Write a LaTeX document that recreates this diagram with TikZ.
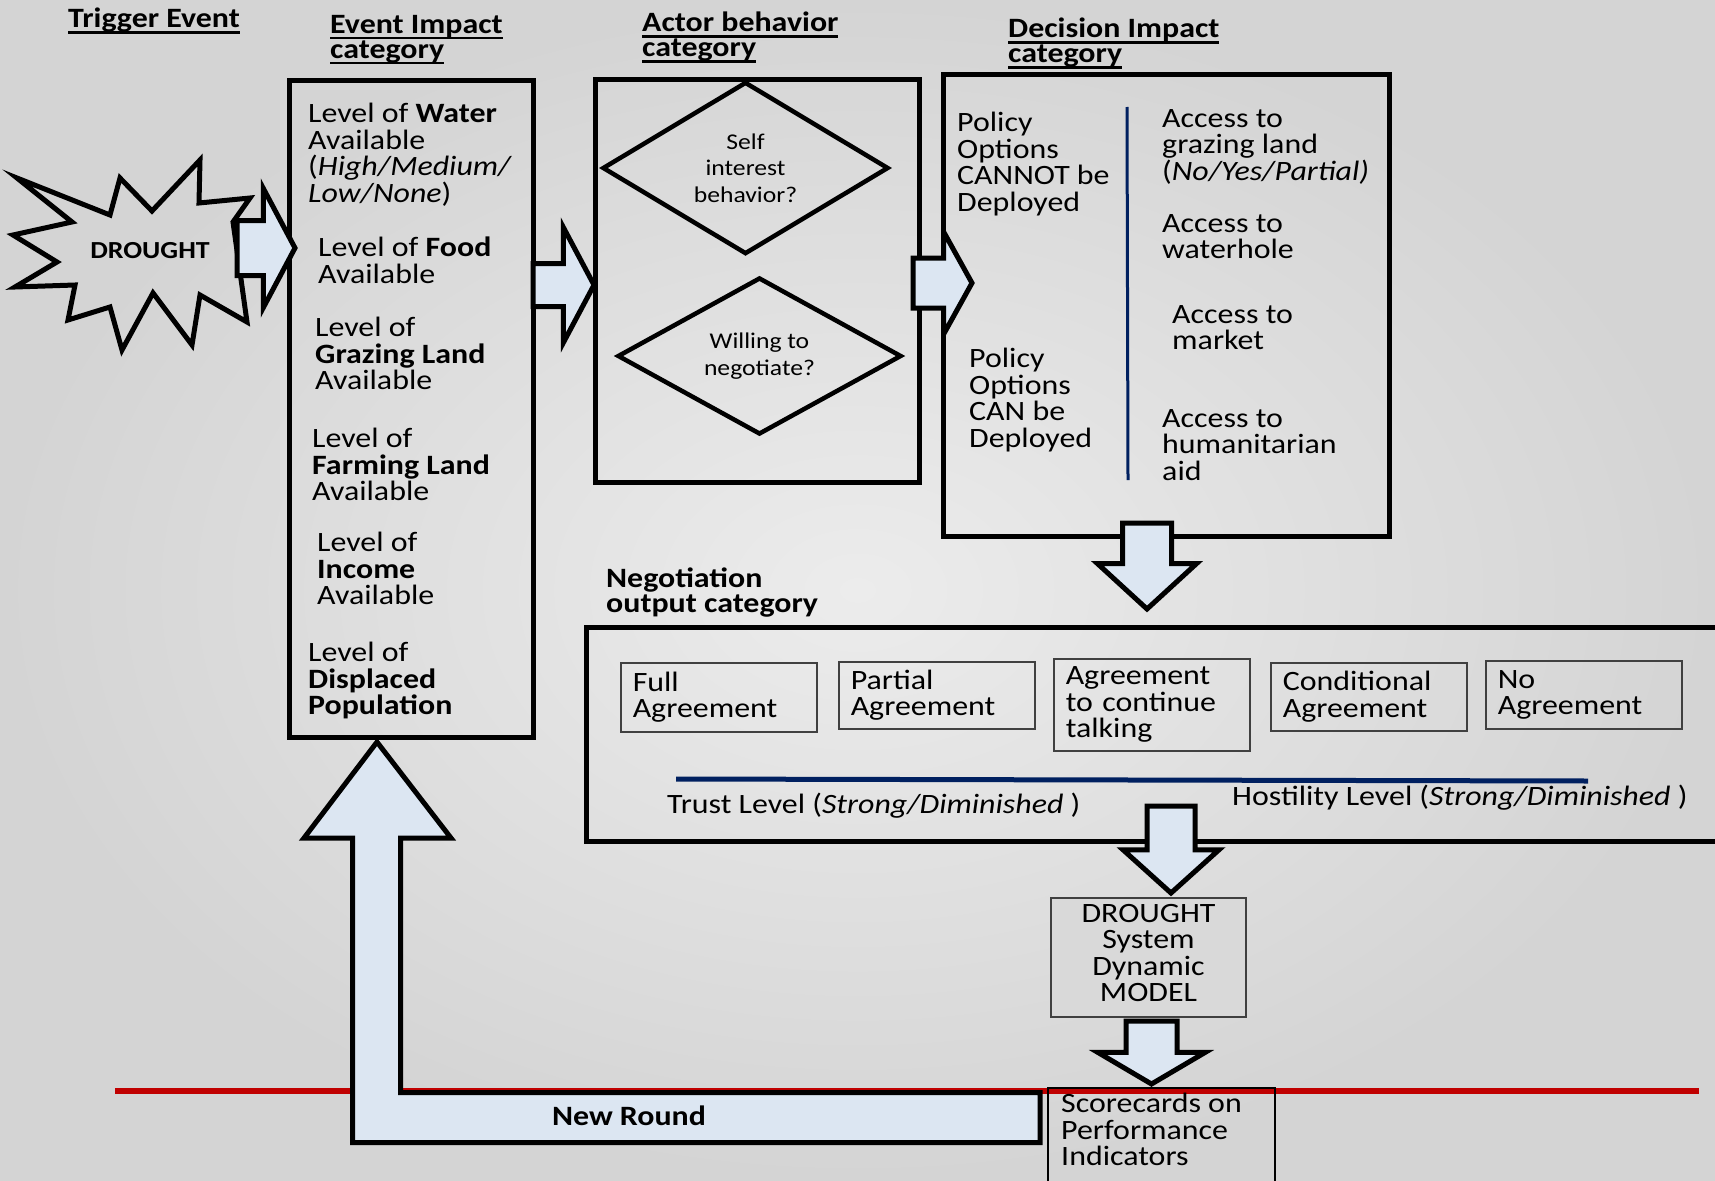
\documentclass[tikz,border=0pt]{standalone}
\usepackage{fontspec}
\setmainfont{Carlito}[FakeStretch=1.14]
\definecolor{arrowblue}{RGB}{220,230,242}
\definecolor{navy}{RGB}{0,32,96}
\definecolor{roundred}{RGB}{192,0,0}
\definecolor{modelgray}{RGB}{217,217,217}
\definecolor{boxgray}{RGB}{64,64,64}
\definecolor{bginner}{RGB}{236,236,236}
\definecolor{bgouter}{RGB}{212,212,212}
\usetikzlibrary{shapes.geometric,shapes.arrows}
\newcommand{\headul}[1]{\setbox0\hbox{#1}\rlap{\rule[-6pt]{\wd0}{2.5pt}}\box0}

\begin{document}
\begin{tikzpicture}[x=1pt,y=-1pt,line join=miter]
	\tikzstyle{catbox}=[draw,line width=5pt,inner sep=0];
	\tikzstyle{outbox}=[draw=boxgray,line width=1.5pt,text width=172pt,inner xsep=12pt,inner ysep=0pt,align=left,anchor=north west,font=\fontsize{28}{26.5}\selectfont];
	\tikzstyle{blockarr}=[single arrow,draw,fill=arrowblue,line width=5pt,inner sep=0,outer sep=0,anchor=tip];
	\tikzstyle{choice}=[diamond,draw,line width=4.5pt,inner sep=0,align=center,font=\fontsize{22.5}{26.5}\selectfont];
	\tikzstyle{txt}=[inner sep=0,align=left,anchor=north west,font=\fontsize{28}{26.5}\selectfont];
	\tikzstyle{cattitle}=[inner sep=0,align=left,anchor=north west,font=\bfseries\fontsize{28}{25}\selectfont];
	\shade[inner color=bginner,outer color=bgouter] (0,0) rectangle (1715,1180);
	\useasboundingbox (0,0) rectangle (1715,1180);

	\node[cattitle,anchor=base west] (t-trig) at (68,28) {\headul{Trigger Event}};
	\node[cattitle] (t-impact) at (330,15) {\headul{Event Impact}\\\headul{category}};
	\node[cattitle] (t-actor) at (642,12) {\headul{Actor behavior}\\\headul{category}};
	\node[cattitle] (t-dec) at (1008,18) {\headul{Decision Impact}\\\headul{category}};

	\draw[line width=5pt] (17,178) -- (110,215) -- (120,178) -- (152,211) -- (200,160) -- (199,203)
		-- (250,198) -- (233,222) -- (240,272) -- (247,322) -- (200,295) -- (192,345) -- (153,293)
		-- (122,350) -- (110,307) -- (68,320) -- (75,285) -- (15,287) -- (57,262) -- (13,235) -- (72,222) -- cycle;
	\node[inner sep=0,anchor=base,font=\bfseries\fontsize{24.5}{25}\selectfont] (drought) at (150,258) {DROUGHT};

	\node[catbox,minimum width=244,minimum height=656] (impact) at (411,409) {};
	\node[catbox,minimum width=324,minimum height=402] (actor) at (757,281) {};
	\node[catbox,minimum width=446,minimum height=461] (decision) at (1166,305.5) {};
	\node[catbox,minimum width=1139,minimum height=214] (nego) at (1155.5,734) {};

	\node[txt] (water) at (308,103) {Level of \textbf{Water}\\Available\\(\textit{High/Medium/}\\\textit{Low/None})};
	\node[txt] (food) at (318,237) {Level of \textbf{Food}\\Available};
	\node[txt] (grazing) at (315,317) {Level of\\\textbf{Grazing Land}\\Available};
	\node[txt] (farming) at (312,428) {Level of\\\textbf{Farming Land}\\Available};
	\node[txt] (income) at (317,532) {Level of\\\textbf{Income}\\Available};
	\node[txt] (displaced) at (308,642) {Level of\\\textbf{Displaced}\\\textbf{Population}};

	\node[choice,minimum width=286,minimum height=117] (self) at (745.5,168) {Self\\interest\\behavior?};
	\node[choice,minimum width=284,minimum height=115] (willing) at (759.5,356) {Willing to\\negotiate?};

	\node[txt] (cannot) at (957,112) {Policy\\Options\\CANNOT be\\Deployed};
	\node[txt] (can) at (969,348) {Policy\\Options\\CAN be\\Deployed};
	\draw[navy,line width=3pt] (1127,107) -- (1128,480);
	\node[txt] (acc-graze) at (1162,109) {Access to\\grazing land\\(\textit{No/Yes/Partial)}};
	\node[txt] (acc-water) at (1162,214) {Access to\\waterhole};
	\node[txt] (acc-market) at (1172,305) {Access to\\market};
	\node[txt] (acc-aid) at (1162,409) {Access to\\humanitarian\\aid};

	\node[cattitle] (t-nego) at (606,568) {Negotiation\\output category};
	\node[outbox,minimum height=69] (full) at (620,662) {Full\\Agreement};
	\node[outbox,minimum height=67] (partial) at (838,661) {Partial\\Agreement};
	\node[outbox,minimum height=92] (talk) at (1053,658) {Agreement\\to continue\\talking};
	\node[outbox,minimum height=68] (cond) at (1270,662) {Conditional\\Agreement};
	\node[outbox,minimum height=68] (none) at (1485,660) {No\\Agreement};
	\draw[navy,line width=5pt] (676,779) -- (1588,781);
	\node[txt,anchor=base west] (trust) at (667,813) {Trust Level (\textit{Strong/Diminished} )};
	\node[txt,anchor=base west] (hostile) at (1232,805) {Hostility Level (\textit{Strong/Diminished} )};

	\node[draw=boxgray,line width=1.5pt,fill=modelgray,minimum width=195,minimum height=119] (model) at (1148.5,957.5) {};
	\node[inner sep=0,align=center,font=\fontsize{28}{26.5}\selectfont] (model-txt) at (1148.5,953) {DROUGHT\\System\\Dynamic\\MODEL};

	\draw[roundred,line width=5.5pt] (115,1091) -- (1699,1091);
	\draw[line width=5pt,fill=arrowblue] (1040,1092.5) -- (400.5,1092.5) -- (400.5,838) -- (451,838) -- (377,742)
		-- (304,838) -- (352.5,838) -- (352.5,1142.5) -- (1040,1142.5) -- cycle;
	\node[inner sep=0,anchor=base,font=\bfseries\fontsize{28}{28}\selectfont] (round) at (629,1125) {New Round};

	\node[draw,line width=1.5pt,minimum width=227,minimum height=110,inner sep=0] (score) at (1161.5,1143) {};
	\node[txt] (score-txt) at (1061,1093) {Scorecards on\\Performance\\Indicators};

	\node[blockarr,inner ysep=25,minimum height=58,minimum width=114,single arrow head extend=32,single arrow tip angle=124] (a-trig) at (295,248) {};
	\node[blockarr,inner ysep=19,minimum height=61,minimum width=110,single arrow head extend=36,single arrow tip angle=124] (a-impact) at (594,285) {};
	\node[blockarr,inner ysep=22.5,minimum height=59,minimum width=97,single arrow head extend=26,single arrow tip angle=122] (a-actor) at (972,283) {};
	\node[blockarr,inner xsep=22,minimum height=86,minimum width=94,single arrow head extend=25,single arrow tip angle=95,shape border rotate=270] (a-dec) at (1147,609) {};
	\node[blockarr,inner xsep=21.5,minimum height=87,minimum width=91,single arrow head extend=24,single arrow tip angle=96,shape border rotate=270] (a-nego) at (1171,893) {};
	\node[blockarr,inner xsep=23,minimum height=63,minimum width=102,single arrow head extend=28,single arrow tip angle=119,shape border rotate=270] (a-model) at (1151.5,1084) {};
\end{tikzpicture}
\end{document}
